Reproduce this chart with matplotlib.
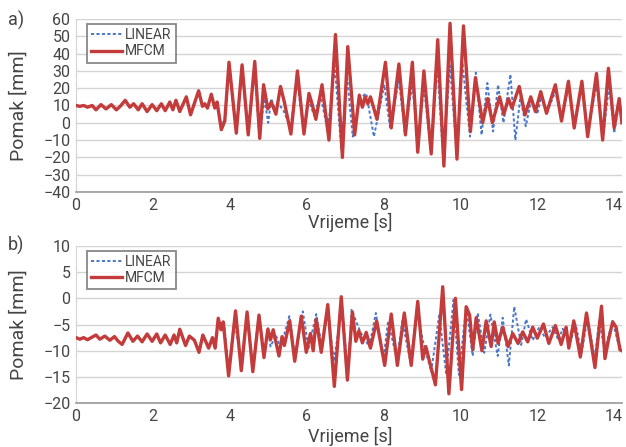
import matplotlib
matplotlib.use("Agg")
import matplotlib.pyplot as plt

plt.rcParams['font.family'] = ['Roboto', 'DejaVu Sans']

# zajednički početni dio (oba modela se poklapaju do ~3.6 s)
t_a_early = [0.0, 0.1, 0.2, 0.3, 0.42, 0.52, 0.65, 0.78, 0.92, 1.05, 1.15, 1.28, 1.4, 1.5,
             1.62, 1.72, 1.85, 1.98, 2.1, 2.22, 2.32, 2.44, 2.52, 2.6, 2.7, 2.87, 2.98,
             3.19, 3.29, 3.35, 3.42, 3.52, 3.61]
v_a_early = [10, 9.5, 10, 9, 10, 7.5, 10.5, 8, 10.5, 7.5, 9.5, 13, 9, 11,
             7.5, 11, 6.5, 10.5, 7, 11, 7, 12, 7.5, 13, 6.5, 15, 4.6,
             18.5, 9.5, 11, 8.5, 16.5, 8.5]

# a) MFCM
t_a_mfcm = [3.67, 3.78, 3.87, 3.98, 4.17, 4.32, 4.48, 4.65, 4.78, 4.88, 4.99, 5.08, 5.2, 5.32,
            5.42, 5.59, 5.76, 5.93, 6.06, 6.14, 6.24, 6.4, 6.58, 6.75, 6.93, 7.07, 7.25,
            7.37, 7.45, 7.52, 7.59, 7.66, 7.83, 8.05, 8.2, 8.4, 8.57, 8.75, 8.89, 9.05,
            9.24, 9.41, 9.57, 9.73, 9.91, 10.08, 10.26, 10.39, 10.58, 10.71, 10.83, 11.02,
            11.13, 11.25, 11.34, 11.53, 11.68, 11.83, 11.95, 12.09, 12.24, 12.47, 12.63,
            12.81, 12.96, 13.16, 13.31, 13.54, 13.70, 13.85, 14.0, 14.13, 14.2]
v_a_mfcm = [12, -4, 1, 35, -6, 33.5, -7, 35.5, -9, 22, 8, 12, 5, 21,
            12, -6.5, 30, -6.5, 17, 11, 2, 22, -10, 51, -20, 44, -7,
            16, 9, 15, 11, 15, 2, 35, -3, 34, -7, 35, -17, 30,
            -18, 48, -25, 57.5, -21, 56, -5, 26, 0, 14, 0, 15,
            5, 14, 8.5, 21, 4.5, 15, 6.5, 18, 5.5, 22, 1,
            24, -3, 24, -8, 28.5, -10, 31.5, -3, 14, 0]

# a) LINEAR
t_a_lin = [3.67, 3.78, 3.87, 3.98, 4.17, 4.32, 4.48, 4.65, 4.77, 4.9, 5.0, 5.08, 5.18, 5.27,
           5.4, 5.58, 5.75, 5.92, 6.05, 6.2, 6.36, 6.55, 6.73, 6.9, 7.05, 7.2, 7.37, 7.55,
           7.75, 8.02, 8.17, 8.4, 8.55, 8.75, 8.9, 9.05, 9.22, 9.4, 9.55, 9.73, 9.9, 10.05,
           10.25, 10.4, 10.55, 10.7, 10.85, 10.98, 11.12, 11.3, 11.43, 11.56, 11.7, 11.85,
           12.0, 12.1, 12.25, 12.47, 12.63, 12.81, 12.96, 13.16, 13.31, 13.54, 13.72,
           13.87, 14.0, 14.13, 14.2]
v_a_lin = [12, -2, 2, 32, -5, 30, -5, 32, -9, 14, 0, 14, 7, 11,
           7, -3, 25, -4, 13, 4, 16, -5, 33, -15, 27, -8, 14, 17,
           -8, 22, -3, 25, -5, 22, -13, 22, -15, 33, -20, 33, -17, 35,
           -8, 29, -7, 23, -5, 22, 0, 28, -10, 15, -2, 14,
           5, 15, 6, 18, 3, 20, 0, 20, -5, 22, -7,
           22, -6, 12, 2]

# b) zajednički početni dio
t_b_early = [0.0, 0.1, 0.2, 0.3, 0.42, 0.52, 0.62, 0.75, 0.88, 1.0, 1.1, 1.2, 1.35, 1.48,
             1.6, 1.72, 1.85, 1.98, 2.1, 2.2, 2.32, 2.45, 2.55, 2.62, 2.7, 2.85, 2.95,
             3.08, 3.2, 3.3, 3.45, 3.55, 3.62]
v_b_early = [-7.5, -7.8, -7.5, -7.9, -7.4, -7.0, -7.8, -7.2, -8.0, -7.3, -8.2, -8.8, -6.6, -8.2,
             -7.2, -8.3, -6.8, -8.2, -6.8, -8.5, -7.0, -8.8, -7.0, -8.5, -5.9, -9.0, -7.2,
             -8.0, -10.3, -7.0, -9.5, -7.5, -9.5]

# b) MFCM
t_b_mfcm = [3.7, 3.77, 3.83, 3.97, 4.15, 4.3, 4.45, 4.6, 4.76, 4.89, 4.99, 5.06, 5.13, 5.28,
            5.36, 5.42, 5.56, 5.69, 5.86, 5.99, 6.1, 6.17, 6.25, 6.38, 6.55, 6.72, 6.9,
            7.06, 7.19, 7.28, 7.36, 7.45, 7.55, 7.66, 7.82, 8.03, 8.2, 8.36, 8.54, 8.72,
            8.89, 9.02, 9.1, 9.35, 9.54, 9.7, 9.87, 10.03, 10.15, 10.24, 10.32, 10.41,
            10.56, 10.67, 10.8, 10.88, 10.98, 11.1, 11.24, 11.36, 11.5, 11.62, 11.75,
            11.88, 12.0, 12.16, 12.3, 12.47, 12.62, 12.75, 12.82, 12.95, 13.12, 13.28,
            13.5, 13.67, 13.76, 13.85, 13.96, 14.05, 14.15, 14.2]
v_b_mfcm = [-3.8, -6.0, -4.5, -14.8, -2.4, -13.8, -2.6, -14.0, -3.2, -11.3, -5.9, -7.9, -6.0, -11.0,
            -7.3, -9.0, -4.3, -12.0, -3.4, -10.3, -6.7, -10.0, -4.0, -10.3, -1.2, -16.8, 0.3,
            -15.6, -2.6, -8.2, -6.2, -8.5, -6.5, -9.5, -4.3, -12.8, -3.0, -12.8, -2.8, -12.8,
            -0.6, -11.6, -9.2, -16.5, 2.2, -18.2, 0.0, -17.4, -1.6, -3.2, -9.8, -3.7,
            -10.0, -4.3, -9.2, -4.5, -8.6, -5.5, -9.2, -6.7, -8.6, -6.4, -8.3,
            -5.5, -7.6, -4.9, -8.6, -5.2, -8.8, -5.5, -9.5, -4.3, -11.2, -2.8,
            -13.2, -1.5, -11.5, -8.0, -4.5, -5.5, -9.8, -10.0]

# b) LINEAR
t_b_lin = [3.7, 3.78, 3.85, 3.97, 4.12, 4.3, 4.45, 4.6, 4.76, 4.9, 5.0, 5.06, 5.2, 5.32,
           5.55, 5.7, 5.9, 6.05, 6.25, 6.4, 6.55, 6.71, 6.92, 7.07, 7.17, 7.4, 7.63, 7.8,
           8.0, 8.12, 8.35, 8.49, 8.7, 8.88, 9.02, 9.24, 9.45, 9.63, 9.82, 9.96, 10.15,
           10.32, 10.45, 10.62, 10.78, 10.97, 11.1, 11.26, 11.4, 11.58, 11.71, 11.88,
           12.05, 12.2, 12.4, 12.55, 12.66, 12.85, 13.0, 13.15, 13.3, 13.5, 13.61, 13.75,
           13.96, 14.1, 14.2]
v_b_lin = [-4.0, -5.5, -4.6, -14.0, -4.0, -12.5, -3.0, -13.0, -3.0, -10.5, -5.5, -9.2, -7.0, -9.5,
           -3.4, -11.0, -2.5, -9.5, -3.0, -9.5, -2.5, -12.0, -1.5, -14.5, -2.2, -6.5, -9.2, -2.8,
           -11.5, -4.3, -11.8, -4.3, -12.2, -2.0, -8.0, -14.0, -3.1, -14.5, -0.3, -14.6, -1.6,
           -11.0, -2.8, -10.4, -3.1, -11.0, -3.7, -12.8, -1.6, -8.9, -4.0, -8.0,
           -5.5, -7.5, -5.5, -8.0, -5.8, -8.5, -5.0, -10.5, -4.0, -11.5, -4.0, -10.0,
           -4.3, -8.5, -9.5]

x_ticks = [0, 2, 4, 6, 8, 10, 12, 14]
y_ticks_a = list(range(-40, 61, 10))
y_ticks_b = list(range(-20, 11, 5))

red = '#c43b3b'
blue = '#4a78c8'
txt = '#444444'

fig = plt.figure(figsize=(6.26, 4.47), dpi=100)
ax_a = fig.add_axes([0.1214, 0.5705, 0.872, 0.387])
ax_b = fig.add_axes([0.1214, 0.098, 0.872, 0.352])

panels = [
    (ax_a, t_a_early + t_a_lin, v_a_early + v_a_lin, t_a_early + t_a_mfcm, v_a_early + v_a_mfcm,
     y_ticks_a, "a)", 0.955, 0.764, 0.503, 'center'),
    (ax_b, t_b_early + t_b_lin, v_b_early + v_b_lin, t_b_early + t_b_mfcm, v_b_early + v_b_mfcm,
     y_ticks_b, "b)", 0.452, 0.274, 0.002, 'bottom'),
]

for ax, tl, vl, tm, vm, yt, tag, tag_y, ylab_y, xlab_y, xlab_va in panels:
    ax.plot(tl, vl, color=blue, lw=1.4, ls=(0, (1.6, 1.2)), label="LINEAR", zorder=3)
    ax.plot(tm, vm, color=red, lw=2.4, solid_joinstyle='round', label="MFCM", zorder=4)
    ax.set_xlim(0, 14.2)
    ax.set_ylim(yt[0], yt[-1])
    ax.set_xticks(x_ticks)
    ax.set_yticks(yt)
    ax.grid(axis='y', color='#d4d4d4', lw=1)
    ax.set_axisbelow(True)
    ax.tick_params(length=0, labelsize=11.5, colors=txt, pad=4)
    for s in ['top', 'right']:
        ax.spines[s].set_visible(False)
    ax.spines['left'].set_color('#d4d4d4')
    ax.spines['bottom'].set_color('#9a9a9a')
    ax.spines['bottom'].set_linewidth(1.2)
    leg = ax.legend(loc='upper left', bbox_to_anchor=(0.02, 0.97), fancybox=False,
                    edgecolor='#6a6a6a', fontsize=10, handlelength=2.2, borderpad=0.3,
                    labelspacing=0.15, handletextpad=0.25, borderaxespad=0)
    leg.get_frame().set_linewidth(1.3)
    for t in leg.get_texts():
        t.set_color(txt)
    fig.text(0.012, tag_y, tag, fontsize=13, color=txt, va='center')
    fig.text(0.03, ylab_y, "Pomak [mm]", rotation=90, fontsize=14, color=txt,
             va='center', ha='center')
    fig.text(0.559, xlab_y, "Vrijeme [s]", fontsize=13, color=txt, va=xlab_va, ha='center')

plt.savefig("out.png", dpi=100)
